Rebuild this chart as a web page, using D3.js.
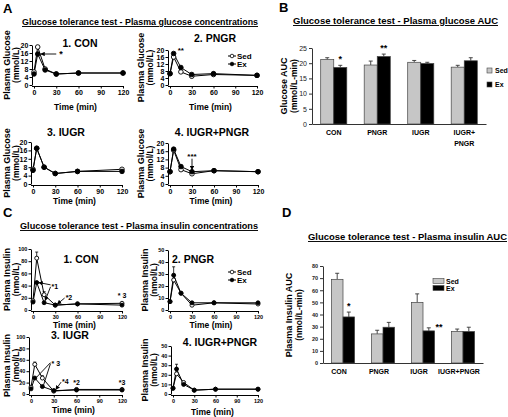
<!DOCTYPE html>
<html><head><meta charset="utf-8">
<script src="https://cdn.jsdelivr.net/npm/d3@7"></script>
<style>body{margin:0;background:#fff}svg{display:block}text{font-family:"Liberation Sans",Arial,sans-serif}</style>
</head><body><svg id="c" width="508" height="417"></svg>
<script>
// ---------- data ----------
const times = [0, 5, 15, 30, 60, 120];
const timeTicks = [0, 30, 60, 90, 120];
const glucoseTicks = [0, 4, 8, 12, 16, 20];
const insulinTicks100 = [0, 20, 40, 60, 80, 100];
const insulinTicks50 = [0, 10, 20, 30, 40, 50];

const gluCONSed  = [6.5, 19, 8, 5.5, 6, 6];
const gluCONEx   = [5.5, 15.5, 7.5, 5.5, 6, 6];
const gluPNGRSed = [6.5, 16, 7.5, 5, 6, 5.5];
const gluPNGREx  = [6.5, 18, 10, 6, 6.5, 5.5];
const gluIUGRSed = [7, 17, 8, 5, 6, 7];
const gluIUGREx  = [6.5, 17, 8, 5, 6, 6];
const gluIPSed   = [6, 16.5, 7, 5, 6.5, 6];
const gluIPEx    = [6, 17, 8.5, 6, 6.5, 6];

const insCONSed  = [15, 85, 25, 8, 10, 11];
const insCONSedErr = [0, 10, 5, 0, 0, 0];
const insCONEx   = [13, 45, 12, 8, 10, 8];
const insPNGRSed = [7, 25, 14, 4, 6, 5];
const insPNGREx  = [7, 29, 14, 6, 6, 6];
const insPNGRExErr = [0, 7, 0, 0, 0, 0];
const insIUGRSed = [12, 52, 28, 5, 8, 8];
const insIUGRSedErr = [0, 4, 4, 0, 0, 0];
const insIUGREx  = [9, 28, 13, 6, 7, 7];
const insIPSed   = [6, 21, 12, 4, 5, 5];
const insIPEx    = [6, 26, 10, 4, 5, 5];
const insIPExErr = [0, 5, 0, 0, 0, 0];

const groups = ["CON", "PNGR", "IUGR", "IUGR+PNGR"];
const glucoseAUCSed = [21.2, 19.4, 20.3, 18.7];
const glucoseAUCSedErr = [0.6, 1.3, 0.6, 0.6];
const glucoseAUCEx = [18.6, 22.2, 19.9, 20.8];
const glucoseAUCExErr = [0.7, 0.8, 0.4, 1.0];
const glucoseAUCTicks = [0, 5, 10, 15, 20, 25];
const insulinAUCSed = [69, 24, 50, 26];
const insulinAUCSedErr = [5, 3, 7, 2];
const insulinAUCEx = [38, 29.5, 26.5, 26];
const insulinAUCExErr = [4, 4, 2.5, 3.5];
const insulinAUCTicks = [0, 10, 20, 30, 40, 50, 60, 70, 80];

// ---------- drawing ----------
const svg = d3.select("#c");
const F = '"Liberation Sans",Arial,sans-serif';

function txt(x, y, s, size, opts = {}) {
  const t = svg.append("text").attr("x", x).attr("y", y).text(s)
    .attr("font-size", size).attr("font-weight", opts.w || "bold")
    .attr("text-anchor", opts.a || "start").attr("fill", opts.fill || "#000");
  if (opts.rot) t.attr("transform", `rotate(-90,${x},${y})`);
  if (opts.u) t.style("text-decoration", "underline");
  if (opts.len) t.attr("textLength", opts.len).attr("lengthAdjust", "spacingAndGlyphs");
  return t;
}

svg.append("defs").append("marker").attr("id", "ah").attr("viewBox", "0 0 10 10")
  .attr("refX", 9).attr("refY", 5).attr("markerWidth", 5).attr("markerHeight", 5)
  .attr("orient", "auto-start-reverse")
  .append("path").attr("d", "M0,0L10,5L0,10z").attr("fill", "#000");

function linePlot(o) {
  const x = d3.scaleLinear().domain([0, 120]).range([o.xl, o.xr]);
  const y = d3.scaleLinear().domain([0, o.ymax]).range([o.yb, o.yt]);
  const g = svg.append("g");
  const ya = g.append("g").attr("transform", `translate(${o.xl - 2},0)`)
    .call(d3.axisLeft(y).tickValues(o.yticks).tickSize(2.5).tickSizeOuter(0).tickPadding(1.2));
  const xa = g.append("g").attr("transform", `translate(0,${o.yb + 1})`)
    .call(d3.axisBottom(x).tickValues(timeTicks).tickSize(2.5).tickSizeOuter(0).tickPadding(1.5));
  [ya, xa].forEach(a => {
    a.selectAll("text").attr("font-size", o.tf).attr("font-weight", "bold").attr("font-family", F).attr("fill", "#000");
    a.selectAll("line,path").attr("stroke", "#000").attr("stroke-width", 1);
  });
  xa.select(".domain").attr("d", `M${o.xl - 2},0.5H${o.xr}`);
  const line = d3.line().x((d, i) => x(times[i])).y(d => y(d));
  const series = [[o.sed, o.sedErr, "#fff"], [o.ex, o.exErr, "#000"]];
  series.forEach(([vals, err, fill]) => {
    if (err) err.forEach((e, i) => {
      if (!e) return;
      const cx = x(times[i]);
      g.append("line").attr("x1", cx).attr("x2", cx).attr("y1", y(vals[i])).attr("y2", y(vals[i] + e)).attr("stroke", "#000").attr("stroke-width", 0.8);
      g.append("line").attr("x1", cx - 1.5).attr("x2", cx + 1.5).attr("y1", y(vals[i] + e)).attr("y2", y(vals[i] + e)).attr("stroke", "#000").attr("stroke-width", 0.8);
    });
  });
  series.forEach(([vals, err, fill]) => {
    g.append("path").datum(vals).attr("d", line).attr("fill", "none").attr("stroke", "#000").attr("stroke-width", 1);
  });
  series.forEach(([vals, err, fill]) => {
    g.selectAll(null).data(vals).enter().append("circle")
      .attr("cx", (d, i) => x(times[i])).attr("cy", d => y(d)).attr("r", o.r || 2.3)
      .attr("fill", fill).attr("stroke", "#000").attr("stroke-width", 0.9);
  });
  txt(o.tx, o.ty, o.title, o.tsize || 10.5, { a: "middle" });
  txt(o.xl + (o.xr - o.xl) / 2 - 3, o.timeY, "Time (min)", 8.5, { a: "middle" });
  const yc = (o.yb + o.yt) / 2;
  txt(o.l1x, yc, o.ylab1, 9, { a: "middle", rot: true });
  txt(o.l2x, yc, o.ylab2, 8.5, { a: "middle", rot: true });
  if (o.legend) {
    const lx = o.legend[0], ly = o.legend[1];
    [["Sed", "#fff", 0], ["Ex", "#000", 8]].forEach(([s, f, dy]) => {
      g.append("line").attr("x1", lx - 4).attr("x2", lx + 4).attr("y1", ly + dy).attr("y2", ly + dy).attr("stroke", "#000");
      g.append("circle").attr("cx", lx).attr("cy", ly + dy).attr("r", 1.8).attr("fill", f).attr("stroke", "#000").attr("stroke-width", 0.8);
      txt(lx + 5, ly + dy + 3, s, 8);
    });
  }
  return { x, y, g };
}

function arrow(g, x1, y1, x2, y2, head = true) {
  const l = g.append("line").attr("x1", x1).attr("y1", y1).attr("x2", x2).attr("y2", y2)
    .attr("stroke", "#000").attr("stroke-width", 0.9);
  if (head) l.attr("marker-end", "url(#ah)");
}

// ---- Panel A ----
txt(3, 13, "A", 13);
txt(22, 25, "Glucose tolerance test - Plasma glucose concentrations", 9.5, { u: true, len: 236 });

const a1 = linePlot({ xl: 34, xr: 123, yb: 85, yt: 45, ymax: 20, yticks: glucoseTicks, tf: 7,
  sed: gluCONSed, ex: gluCONEx, title: "1. CON", tx: 80, ty: 47, timeY: 110,
  ylab1: "Plasma Glucose", ylab2: "(mmol/L)", l1x: 10, l2x: 18.5 });
arrow(a1.g, a1.x(30), a1.y(gluCONEx[1]), a1.x(5) + 3, a1.y(gluCONEx[1]));
txt(a1.x(30) + 3, a1.y(gluCONEx[1]) + 3, "*", 9);

const a2 = linePlot({ xl: 170, xr: 257, yb: 85, yt: 50, ymax: 20, yticks: glucoseTicks, tf: 7,
  sed: gluPNGRSed, ex: gluPNGREx, title: "2. PNGR", tx: 215, ty: 42, timeY: 110,
  ylab1: "Plasma Glucose", ylab2: "(mmol/L)", l1x: 144, l2x: 152.5, legend: [232, 56] });
txt(a2.x(5) + 4, a2.y(gluPNGREx[1]) - 1, "**", 8);

const a3 = linePlot({ xl: 33, xr: 122, yb: 184, yt: 142, ymax: 20, yticks: glucoseTicks, tf: 7,
  sed: gluIUGRSed, ex: gluIUGREx, title: "3. IUGR", tx: 66, ty: 136, timeY: 204,
  ylab1: "Plasma Glucose", ylab2: "(mmol/L)", l1x: 10, l2x: 18.5 });

const a4 = linePlot({ xl: 170, xr: 258, yb: 184, yt: 143, ymax: 20, yticks: glucoseTicks, tf: 7,
  sed: gluIPSed, ex: gluIPEx, title: "4. IUGR+PNGR", tx: 212, ty: 136, timeY: 204,
  ylab1: "Plasma Glucose", ylab2: "(mmol/L)", l1x: 144, l2x: 152.5 });
arrow(a4.g, a4.x(30), a4.y(gluIPEx[3]) - 13, a4.x(30), a4.y(gluIPEx[3]) - 2);
txt(a4.x(30), a4.y(gluIPEx[3]) - 13, "***", 8, { a: "middle" });

// ---- Panel C ----
txt(3, 217, "C", 13);
txt(20, 229, "Glucose tolerance test - Plasma insulin concentrations", 9.5, { u: true, len: 238 });

const c1 = linePlot({ xl: 33, xr: 122, yb: 310, yt: 249, ymax: 100, yticks: insulinTicks100, tf: 5.5, r: 2,
  sed: insCONSed, sedErr: insCONSedErr, ex: insCONEx, title: "1. CON", tx: 81, ty: 263, timeY: 328,
  ylab1: "Plasma Insulin", ylab2: "(nmol/L)", l1x: 10, l2x: 19 });
{
  const tx = c1.x(25), ty = c1.y(38);
  arrow(c1.g, tx - 1, ty - 2, c1.x(5) + 2, c1.y(insCONEx[1]));
  arrow(c1.g, tx - 1, ty, c1.x(15) + 1, c1.y(insCONEx[2]) - 2);
  txt(tx, ty + 2, "*1", 7);
  const t2x = c1.x(44), t2y = c1.y(18);
  arrow(c1.g, t2x - 1, t2y - 1, c1.x(30) + 2, c1.y(insCONEx[3]) - 1);
  txt(t2x, t2y + 1, "*2", 7);
  txt(c1.x(120), c1.y(insCONSed[5]) - 5, "* 3", 7, { a: "middle" });
}

const c2 = linePlot({ xl: 170, xr: 258, yb: 310, yt: 250, ymax: 50, yticks: insulinTicks50, tf: 5.5, r: 2,
  sed: insPNGRSed, ex: insPNGREx, exErr: insPNGRExErr, title: "2. PNGR", tx: 193, ty: 263, timeY: 328,
  ylab1: "Plasma Insulin", ylab2: "(nmol/L)", l1x: 148, l2x: 157, legend: [232, 272] });

const c3 = linePlot({ xl: 31, xr: 122, yb: 394, yt: 337, ymax: 100, yticks: insulinTicks100, tf: 5.5, r: 2,
  sed: insIUGRSed, sedErr: insIUGRSedErr, ex: insIUGREx, title: "3. IUGR", tx: 70, ty: 339, timeY: 413,
  ylab1: "Plasma Insulin", ylab2: "(nmol/L)", l1x: 10, l2x: 19 });
{
  const tx = c3.x(27), ty = c3.y(55);
  c3.g.append("line").attr("x1", tx - 1).attr("y1", ty).attr("x2", c3.x(5) + 2).attr("y2", c3.y(insIUGREx[1]) - 1).attr("stroke", "#000").attr("stroke-width", 0.9);
  c3.g.append("line").attr("x1", tx - 1).attr("y1", ty + 1).attr("x2", c3.x(15) + 1).attr("y2", c3.y(insIUGREx[2]) - 1).attr("stroke", "#000").attr("stroke-width", 0.9);
  txt(tx, ty + 3, "* 3", 7);
  const t4x = c3.x(41), t4y = c3.y(19);
  arrow(c3.g, t4x - 1, t4y - 1, c3.x(30) + 2, c3.y(insIUGREx[3]) - 1);
  txt(t4x, t4y + 1, "*4", 7);
  txt(c3.x(60), c3.y(insIUGRSed[4]) - 4, "*2", 7, { a: "middle" });
  txt(c3.x(120), c3.y(insIUGRSed[5]) - 4, "*3", 7, { a: "middle" });
}

const c4 = linePlot({ xl: 173, xr: 258, yb: 394, yt: 346, ymax: 50, yticks: insulinTicks50, tf: 5.5, r: 2,
  sed: insIPSed, ex: insIPEx, exErr: insIPExErr, title: "4. IUGR+PNGR", tx: 220, ty: 346, timeY: 415,
  ylab1: "Plasma Insulin", ylab2: "(nmol/L)", l1x: 148, l2x: 157 });

// ---- Bar panels ----
function barPlot(o) {
  const x0 = d3.scaleBand().domain(groups).range([o.xl, o.xr]).paddingInner(o.pi).paddingOuter(o.po);
  const x1 = d3.scaleBand().domain(["Sed", "Ex"]).range([0, x0.bandwidth()]);
  const y = d3.scaleLinear().domain([0, o.ymax]).range([o.yb, o.yt]);
  const g = svg.append("g");
  const ya = g.append("g").attr("transform", `translate(${o.xl},0)`)
    .call(d3.axisLeft(y).tickValues(o.yticks).tickSize(3).tickSizeOuter(0).tickPadding(2));
  const xa = g.append("g").attr("transform", `translate(0,${o.yb})`)
    .call(d3.axisBottom(x0).tickSize(0).tickSizeOuter(0).tickFormat(""));
  ya.selectAll("text").attr("font-size", o.tf).attr("font-weight", o.tw).attr("font-family", F).attr("fill", "#222");
  [ya, xa].forEach(a => a.selectAll("line,path").attr("stroke", "#333").attr("stroke-width", 1));
  const sets = [["Sed", o.sed, o.sedErr, "#c6c6c6"], ["Ex", o.ex, o.exErr, "#000"]];
  sets.forEach(([k, vals, errs, col]) => {
    groups.forEach((grp, i) => {
      const bx = x0(grp) + x1(k), bw = x1.bandwidth();
      const cx = bx + bw / 2;
      g.append("line").attr("x1", cx).attr("x2", cx).attr("y1", y(vals[i])).attr("y2", y(vals[i] + errs[i])).attr("stroke", "#333").attr("stroke-width", 0.9);
      g.append("line").attr("x1", cx - 2).attr("x2", cx + 2).attr("y1", y(vals[i] + errs[i])).attr("y2", y(vals[i] + errs[i])).attr("stroke", "#333").attr("stroke-width", 0.9);
      g.append("rect").attr("x", bx).attr("width", bw).attr("y", y(vals[i])).attr("height", o.yb - y(vals[i]))
        .attr("fill", col).attr("stroke", "#444").attr("stroke-width", 0.7);
    });
  });
  return { x0, x1, y, g };
}

txt(279, 12, "B", 13);
txt(293, 24, "Glucose tolerance test - Plasma glucose AUC", 9.5, { u: true, len: 205 });
const b = barPlot({ xl: 312, xr: 486, yb: 124, yt: 48, ymax: 25, yticks: glucoseAUCTicks, tf: 7, tw: "normal",
  pi: 0.4, po: 0.2, sed: glucoseAUCSed, sedErr: glucoseAUCSedErr, ex: glucoseAUCEx, exErr: glucoseAUCExErr });
groups.forEach((grp, i) => {
  const cx = b.x0(grp) + b.x0.bandwidth() / 2;
  if (grp === "IUGR+PNGR") { txt(cx, 135, "IUGR+", 7, { a: "middle" }); txt(cx, 146, "PNGR", 7, { a: "middle" }); }
  else txt(cx, 135, grp, 7, { a: "middle" });
});
txt(b.x0("CON") + b.x1("Ex") + b.x1.bandwidth() / 2, b.y(glucoseAUCEx[0] + glucoseAUCExErr[0]) - 3, "*", 9, { a: "middle" });
txt(b.x0("PNGR") + b.x1("Ex") + b.x1.bandwidth() / 2, b.y(glucoseAUCEx[1] + glucoseAUCExErr[1]) - 3, "**", 9, { a: "middle" });
txt(287, 86, "Glucose AUC", 9, { a: "middle", rot: true });
txt(297, 86, "(mmol/L-min)", 8.5, { a: "middle", rot: true });
[["Sed", "#c6c6c6", 71], ["Ex", "#000", 85]].forEach(([s, c, yy]) => {
  svg.append("rect").attr("x", 487).attr("y", yy - 3).attr("width", 5).attr("height", 5).attr("fill", c).attr("stroke", "#444").attr("stroke-width", 0.6);
  txt(495, yy + 2, s, 7);
});

txt(282, 217, "D", 13);
txt(308, 240, "Glucose tolerance test - Plasma insulin AUC", 9.5, { u: true, len: 199 });
const dP = barPlot({ xl: 323, xr: 483, yb: 363, yt: 266, ymax: 80, yticks: insulinAUCTicks, tf: 5.5, tw: "bold",
  pi: 0.42, po: 0.21, sed: insulinAUCSed, sedErr: insulinAUCSedErr, ex: insulinAUCEx, exErr: insulinAUCExErr });
groups.forEach(grp => {
  const cx = dP.x0(grp) + dP.x0.bandwidth() / 2 - 4;
  txt(cx, 374, grp, 7, { a: "middle" });
});
txt(dP.x0("CON") + dP.x1("Ex") + dP.x1.bandwidth() / 2, dP.y(insulinAUCEx[0] + insulinAUCExErr[0]) - 3, "*", 9, { a: "middle" });
txt(dP.x0("IUGR") + dP.x1("Ex") + dP.x1.bandwidth() + 1, dP.y(insulinAUCEx[2] + insulinAUCExErr[2]) + 2, "**", 9);
txt(292, 315, "Plasma Insulin AUC", 9, { a: "middle", rot: true });
txt(302, 315, "(nmol/L-min)", 8.5, { a: "middle", rot: true });
[["Sed", "#c6c6c6", 281], ["Ex", "#000", 288]].forEach(([s, c, yy]) => {
  svg.append("rect").attr("x", 433).attr("y", yy - 2.5).attr("width", 11).attr("height", 5).attr("fill", c).attr("stroke", "#444").attr("stroke-width", 0.6);
  txt(446, yy + 2.5, s, 7);
});
</script></body></html>
